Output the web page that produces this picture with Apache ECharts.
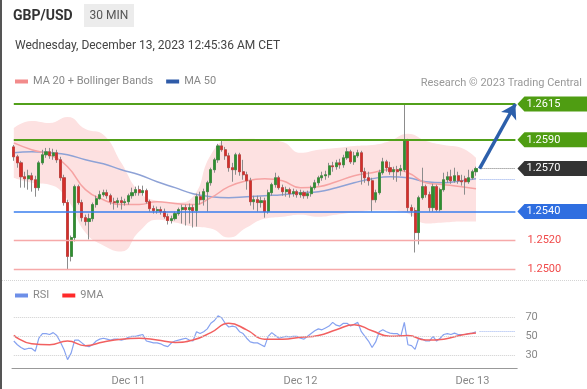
<!DOCTYPE html>
<html><head><meta charset="utf-8">
<script src="https://cdn.jsdelivr.net/npm/echarts@6/dist/echarts.min.js"></script>
<style>
html,body{margin:0;padding:0;background:#fff;}
body{width:587px;height:389px;position:relative;overflow:hidden;font-family:Roboto,"Liberation Sans",Arial,sans-serif;}
#chart{position:absolute;left:0;top:0;width:587px;height:389px;}
.hdr{position:absolute;white-space:nowrap;}
</style></head><body>
<div id="chart"></div>
<div class="hdr" style="left:13px;top:7px;font-size:14px;font-weight:bold;color:#333;line-height:17px">GBP/USD</div>
<div class="hdr" style="left:84px;top:4px;width:50px;height:23px;background:#ececec;color:#555;font-size:12px;line-height:23px;text-align:center">30 MIN</div>
<div class="hdr" style="left:15px;top:37px;font-size:12px;color:#444;line-height:16px">Wednesday, December 13, 2023 12:45:36 AM CET</div>
<div class="hdr" style="right:5px;top:76px;font-size:11px;color:#999;line-height:13px">Research © 2023 Trading Central</div>
<div style="position:absolute;left:0;top:0;width:2px;height:389px;background:#555"></div>
<div style="position:absolute;left:2px;right:0;top:280px;border-top:1px dotted #d4d4d4"></div>
<script>
// ---- axis ticks / categories
const dayTickIndex = [32, 80, 128];
const dayTickLabel = ['Dec 11', 'Dec 12', 'Dec 13'];
const slotCount = 141;

// ---- candles (GBP/USD, 30 min)
const open = [
1.25851,1.25782,1.25740,1.25643,1.25629,1.25650,1.25622,1.25567,1.25740,1.25796,
1.25817,1.25789,1.25810,1.25761,1.25636,1.25463,1.25088,1.25219,1.25574,1.25463,
1.25358,1.25331,1.25351,1.25449,1.25490,1.25518,1.25532,1.25511,1.25469,1.25463,
1.25476,1.25463,1.25469,1.25511,1.25532,1.25553,1.25532,1.25546,1.25469,1.25421,
1.25407,1.25414,1.25400,1.25365,1.25338,1.25351,1.25386,1.25414,1.25428,1.25414,
1.25428,1.25407,1.25504,1.25483,1.25539,1.25601,1.25692,1.25761,1.25858,1.25831,
1.25789,1.25706,1.25692,1.25796,1.25678,1.25657,1.25615,1.25469,1.25483,1.25463,
1.25476,1.25400,1.25532,1.25588,1.25636,1.25567,1.25539,1.25553,1.25525,1.25539,
1.25518,1.25532,1.25511,1.25525,1.25567,1.25601,1.25636,1.25650,1.25657,1.25719,
1.25713,1.25740,1.25726,1.25775,1.25817,1.25747,1.25789,1.25810,1.25678,1.25636,
1.25615,1.25483,1.25532,1.25671,1.25747,1.25706,1.25678,1.25692,1.25685,1.25692,
1.25900,1.25428,1.25407,1.25254,1.25497,1.25574,1.25518,1.25428,1.25574,1.25414,
1.25553,1.25622,1.25643,1.25615,1.25650,1.25615,1.25629,1.25608,1.25636,1.25678];
const close = [
1.25782,1.25740,1.25643,1.25629,1.25650,1.25622,1.25567,1.25740,1.25796,1.25817,
1.25789,1.25810,1.25761,1.25636,1.25463,1.25088,1.25219,1.25574,1.25463,1.25358,
1.25331,1.25351,1.25449,1.25490,1.25518,1.25532,1.25511,1.25469,1.25463,1.25476,
1.25463,1.25469,1.25511,1.25532,1.25553,1.25532,1.25546,1.25469,1.25421,1.25407,
1.25414,1.25400,1.25365,1.25338,1.25351,1.25386,1.25414,1.25428,1.25414,1.25428,
1.25407,1.25504,1.25483,1.25539,1.25601,1.25692,1.25761,1.25858,1.25831,1.25789,
1.25706,1.25692,1.25796,1.25678,1.25657,1.25615,1.25469,1.25483,1.25463,1.25476,
1.25400,1.25532,1.25588,1.25636,1.25567,1.25539,1.25553,1.25525,1.25539,1.25518,
1.25532,1.25511,1.25525,1.25567,1.25601,1.25636,1.25650,1.25657,1.25719,1.25713,
1.25740,1.25726,1.25775,1.25817,1.25747,1.25789,1.25810,1.25678,1.25636,1.25615,
1.25483,1.25532,1.25671,1.25747,1.25706,1.25678,1.25692,1.25678,1.25699,1.25900,
1.25428,1.25407,1.25254,1.25497,1.25574,1.25518,1.25428,1.25574,1.25414,1.25553,
1.25622,1.25643,1.25615,1.25650,1.25615,1.25608,1.25608,1.25636,1.25678,1.25700];
const low = [
1.25754,1.25706,1.25567,1.25567,1.25553,1.25539,1.25504,1.25546,1.25726,1.25775,
1.25768,1.25761,1.25740,1.25615,1.25442,1.24997,1.25053,1.25192,1.25449,1.25331,
1.25303,1.25206,1.25331,1.25428,1.25483,1.25504,1.25490,1.25449,1.25414,1.25428,
1.25414,1.25442,1.25449,1.25490,1.25511,1.25511,1.25511,1.25456,1.25400,1.25386,
1.25386,1.25379,1.25351,1.25310,1.25317,1.25338,1.25372,1.25317,1.25303,1.25317,
1.25289,1.25296,1.25449,1.25442,1.25400,1.25581,1.25671,1.25740,1.25817,1.25761,
1.25678,1.25608,1.25657,1.25650,1.25622,1.25553,1.25442,1.25414,1.25400,1.25428,
1.25358,1.25386,1.25511,1.25567,1.25553,1.25511,1.25504,1.25497,1.25504,1.25497,
1.25497,1.25490,1.25490,1.25504,1.25553,1.25581,1.25615,1.25622,1.25636,1.25678,
1.25692,1.25699,1.25706,1.25761,1.25733,1.25726,1.25775,1.25588,1.25601,1.25581,
1.25400,1.25463,1.25518,1.25657,1.25678,1.25657,1.25622,1.25608,1.25650,1.25678,
1.25400,1.25365,1.25115,1.25171,1.25483,1.25497,1.25400,1.25400,1.25400,1.25400,
1.25539,1.25601,1.25594,1.25601,1.25594,1.25581,1.25518,1.25594,1.25622,1.25650];
const high = [
1.25865,1.25796,1.25754,1.25678,1.25692,1.25671,1.25650,1.25754,1.25831,1.25844,
1.25844,1.25838,1.25831,1.25782,1.25657,1.25483,1.25233,1.25588,1.25588,1.25483,
1.25379,1.25386,1.25463,1.25511,1.25546,1.25553,1.25553,1.25525,1.25497,1.25497,
1.25504,1.25490,1.25525,1.25567,1.25574,1.25581,1.25581,1.25560,1.25483,1.25442,
1.25435,1.25435,1.25421,1.25386,1.25372,1.25400,1.25428,1.25449,1.25449,1.25456,
1.25449,1.25525,1.25539,1.25560,1.25615,1.25706,1.25775,1.25872,1.25893,1.25851,
1.25810,1.25740,1.25810,1.25810,1.25761,1.25678,1.25636,1.25511,1.25511,1.25504,
1.25497,1.25553,1.25601,1.25671,1.25650,1.25588,1.25574,1.25567,1.25560,1.25553,
1.25553,1.25546,1.25546,1.25581,1.25622,1.25650,1.25678,1.25685,1.25740,1.25747,
1.25761,1.25768,1.25796,1.25844,1.25831,1.25817,1.25831,1.25824,1.25706,1.25678,
1.25636,1.25553,1.25692,1.25775,1.25761,1.25747,1.25713,1.25719,1.25726,1.26143,
1.25907,1.25449,1.25428,1.25511,1.25706,1.25588,1.25539,1.25594,1.25588,1.25567,
1.25671,1.25678,1.25692,1.25706,1.25678,1.25657,1.25650,1.25692,1.25692,1.25713];

// ---- indicators read at every 5th candle
const sampleIdx = [0,5,10,15,20,25,30,35,40,45,50,55,60,65,70,75,80,85,90,95,100,105,110,115,120,125,129];
const ma20 = [1.25879,1.25831,1.25796,1.25713,1.25553,1.25483,1.25449,1.25449,1.25469,1.25456,1.25449,1.25497,1.25574,1.25615,1.25629,1.25615,1.25567,1.25574,1.25608,1.25650,1.25671,1.25692,1.25671,1.25601,1.25588,1.25574,1.25560];
const ma50 = [1.25810,1.25817,1.25810,1.25796,1.25761,1.25733,1.25692,1.25657,1.25608,1.25567,1.25525,1.25504,1.25497,1.25504,1.25511,1.25518,1.25532,1.25539,1.25567,1.25601,1.25629,1.25643,1.25636,1.25608,1.25601,1.25615,1.25629];
const bbUpper = [1.25983,1.26032,1.26018,1.26060,1.25976,1.25935,1.25740,1.25539,1.25476,1.25463,1.25504,1.25796,1.25900,1.25907,1.25900,1.25886,1.25810,1.25831,1.25844,1.25858,1.25865,1.25893,1.25942,1.25893,1.25865,1.25844,1.25775];
const bbLower = [1.25636,1.25601,1.25588,1.25483,1.25254,1.25164,1.25122,1.25261,1.25344,1.25324,1.25296,1.25282,1.25219,1.25289,1.25351,1.25365,1.25379,1.25365,1.25379,1.25393,1.25407,1.25407,1.25386,1.25317,1.25324,1.25331,1.25331];

// ---- RSI (per candle) and its 9MA (every 5th candle)
const rsi = [
45,41,38,36,37,37,34,48,53,53,52,54,51,44,36,25,32,46,46,43,
40,39,41,45,47,48,47,46,47,47,46,47,49,50,50,51,52,45,44,43,
43,42,40,39,43,45,46,47,48,46,45,55,53,55,58,64,67,72,70,64,
60,61,60,55,53,48,44,43,43,41,39,50,54,51,48,49,50,49.5,50,50,
48,47,50,53,56,58,57,59,61,65,62,61,64,64,61,63,65,55,50,45,
38,44,55,57,55,53.5,53,53,50,65,41,40,36,48,47,45,45,50,45,48,
52,53,52,53.5,52,52,52,53,53.5,55];
const rsiMa9 = [51,42,41,45,40,44,47,48,46,43.5,46,54,64,57,47,47,49,51,57,62.5,56,50,51,46,47,51.5,53.5];
const rsiLevels = [30, 50, 70];

// ---- key levels
const resistance = [1.2615, 1.2590];
const pivot = 1.2540;
const support = [1.2520, 1.2500];
const lastPrice = 1.2570;

const cats = [];
for (let i = 0; i < slotCount; i++) cats.push(String(i));
const lastIdx = open.length - 1;
const ohlc = open.map((o, i) => [o, close[i], low[i], high[i]]);
const bodies = open.map((o, i) => [o, close[i], Math.min(o, close[i]), Math.max(o, close[i])]);
const pairs = (vals) => sampleIdx.map((x, k) => [x, vals[k]]);
const bandWidth = bbUpper.map((u, k) => u - bbLower[k]);

const GREEN = '#52a01a', BLUE = '#3a7eee', PINKLINE = '#f6a9a9';
const tagPath = 'path://M0,7.5L7,0L72,0L72,15L7,15Z';
const tag = (v, c) => ({ coord: [slotCount - 1, v], value: v, itemStyle: { color: c } });
const seg = (v, style, label) => [
  { coord: [0, v], lineStyle: style, label: label || { show: false } },
  { coord: [slotCount - 1, v] }
];
const supLabel = (v) => ({ show: true, position: 'end', distance: 12, color: '#f04a4a', fontSize: 11, formatter: () => v.toFixed(4) });
const rsiLabel = (v) => ({ show: true, position: 'end', distance: 10, color: '#888', fontSize: 11, formatter: () => String(v) });

const chart = echarts.init(document.getElementById('chart'), null, { renderer: 'canvas' });
chart.setOption({
  animation: false,
  textStyle: { fontFamily: 'Roboto, "Liberation Sans", Arial, sans-serif' },
  legend: [
    { left: 15, top: 76, padding: 0, itemWidth: 13, itemHeight: 4, itemGap: 13, icon: 'rect', selectedMode: false,
      textStyle: { color: '#888', fontSize: 11 },
      data: [{ name: 'MA 20 + Bollinger Bands', itemStyle: { color: '#f28b8b' } }, { name: 'MA 50', itemStyle: { color: '#2f5ba8' } }] },
    { left: 15, top: 290, padding: 0, itemWidth: 13, itemHeight: 4, itemGap: 13, icon: 'rect', selectedMode: false,
      textStyle: { color: '#888', fontSize: 11 },
      data: [{ name: 'RSI', itemStyle: { color: '#6d8fe8' } }, { name: '9MA', itemStyle: { color: '#ff2a2a' } }] }
  ],
  grid: [
    { left: 12, width: 505.2, top: 89.65, height: 185.1, containLabel: false, outerBoundsMode: 'none' },
    { left: 12, width: 505.2, top: 299.05, height: 69.0, containLabel: false, outerBoundsMode: 'none' }
  ],
  xAxis: [
    { type: 'category', gridIndex: 0, data: cats, boundaryGap: true, show: false },
    { type: 'category', gridIndex: 1, data: cats, boundaryGap: true,
      axisLine: { lineStyle: { color: '#999', width: 1 } }, axisTick: { show: false },
      axisLabel: { color: '#888', fontSize: 11, margin: 8,
        interval: (i) => dayTickIndex.includes(i),
        formatter: (v, i) => dayTickLabel[dayTickIndex.indexOf(i)] || '' },
      splitLine: { show: false } }
  ],
  yAxis: [
    { type: 'value', gridIndex: 0, min: 1.2496, max: 1.2625, show: false, splitLine: { show: false } },
    { type: 'value', gridIndex: 1, min: 16, max: 90, show: false, splitLine: { show: false } }
  ],
  series: [
    { name: 'bbLower', type: 'line', xAxisIndex: 0, yAxisIndex: 0, data: pairs(bbLower), stack: 'bb', smooth: true,
      symbol: 'none', lineStyle: { opacity: 0 }, z: 1, silent: true },
    { name: 'bbBand', type: 'line', xAxisIndex: 0, yAxisIndex: 0, data: pairs(bandWidth), stack: 'bb', smooth: true,
      symbol: 'none', lineStyle: { opacity: 0 }, areaStyle: { color: '#fde1e1', opacity: 1 }, z: 1, silent: true },
    { name: 'MA 50', type: 'line', xAxisIndex: 0, yAxisIndex: 0, data: pairs(ma50), smooth: true, symbol: 'none',
      lineStyle: { color: '#8ea2d6', width: 1.5 }, itemStyle: { color: '#2f5ba8' }, z: 2,
      markLine: { silent: true, symbol: ['none', 'none'], label: { show: false },
        data: [
          seg(resistance[0], { color: GREEN, width: 2, type: 'solid' }),
          seg(resistance[1], { color: GREEN, width: 2, type: 'solid' }),
          seg(pivot, { color: BLUE, width: 1.5, type: 'solid' }),
          seg(support[0], { color: PINKLINE, width: 1.3, type: 'solid' }, supLabel(support[0])),
          seg(support[1], { color: PINKLINE, width: 1.3, type: 'solid' }, supLabel(support[1]))
        ] } },
    { name: 'MA 20 + Bollinger Bands', type: 'line', xAxisIndex: 0, yAxisIndex: 0, data: pairs(ma20), smooth: true, symbol: 'none',
      lineStyle: { color: '#f6a3a3', width: 1.5 }, itemStyle: { color: '#f28b8b' }, z: 2 },
    { name: 'wicks', type: 'candlestick', xAxisIndex: 0, yAxisIndex: 0, data: ohlc, barWidth: 2.6, z: 3,
      itemStyle: { color: '#8c8c8c', color0: '#8c8c8c', borderColor: '#8c8c8c', borderColor0: '#8c8c8c', borderWidth: 1 } },
    { name: 'bodies', type: 'candlestick', xAxisIndex: 0, yAxisIndex: 0, data: bodies, barWidth: 2.6, z: 4,
      itemStyle: { color: '#2f8f2f', color0: '#d52e2a', borderColor: '#2f8f2f', borderColor0: '#d52e2a', borderWidth: 0.5 },
      markLine: { silent: true, symbol: ['none', 'none'], label: { show: false },
        data: [
          [{ coord: [lastIdx + 1, lastPrice], lineStyle: { color: '#777', width: 1, type: 'dotted' } }, { coord: [slotCount - 1, lastPrice] }],
          [{ coord: [lastIdx + 1, ma50[ma50.length - 1]], lineStyle: { color: '#8ea8ea', width: 1, type: 'dotted' } }, { coord: [slotCount - 1, ma50[ma50.length - 1]] }],
          [{ coord: [lastIdx + 1, lastPrice], lineStyle: { color: '#2c5fab', width: 3.5, type: 'solid' } },
           { coord: [slotCount - 1, resistance[0]], symbol: 'arrow', symbolSize: [13, 14] }]
        ] },
      markPoint: { silent: true, symbol: tagPath, symbolSize: [72, 15], symbolOffset: [38, 0], symbolKeepAspect: false,
        label: { show: true, position: 'inside', offset: [-10, 0], color: '#fff', fontSize: 11, formatter: (p) => p.value.toFixed(4) },
        data: [tag(resistance[0], '#4f9d12'), tag(resistance[1], '#4f9d12'), tag(lastPrice, '#333333'), tag(pivot, '#2f6ee0')] } },
    { name: 'RSI', type: 'line', xAxisIndex: 1, yAxisIndex: 1, data: rsi, symbol: 'none',
      lineStyle: { color: '#86a2f0', width: 1.2 }, itemStyle: { color: '#6d8fe8' }, z: 2,
      markLine: { silent: true, symbol: ['none', 'none'],
        data: [
          ...rsiLevels.map(v => seg(v, { color: '#cfcfcf', width: 1, type: 'dotted' }, rsiLabel(v))),
          [{ coord: [lastIdx + 1, rsi[lastIdx]], lineStyle: { color: '#9db4f0', width: 1, type: 'dotted' }, label: { show: false } },
           { coord: [slotCount - 1, rsi[lastIdx]] }]
        ] } },
    { name: '9MA', type: 'line', xAxisIndex: 1, yAxisIndex: 1, data: sampleIdx.map((x, k) => [x, rsiMa9[k]]), smooth: true, symbol: 'none',
      lineStyle: { color: '#f26060', width: 1.5 }, itemStyle: { color: '#ff2a2a' }, z: 3 }
  ]
});
</script>
</body></html>
